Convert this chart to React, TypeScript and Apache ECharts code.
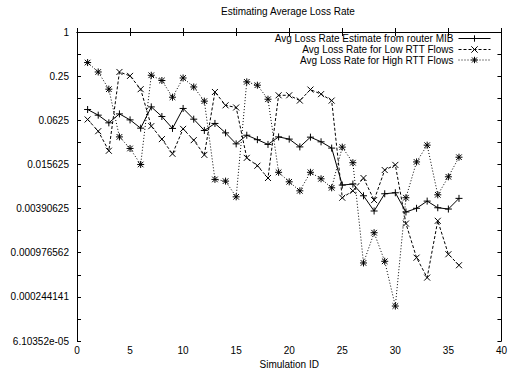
import React, { useEffect, useRef } from "react";
import * as echarts from "echarts";

const simIds = [1, 2, 3, 4, 5, 6, 7, 8, 9, 10, 11, 12, 13, 14, 15, 16, 17, 18, 19, 20, 21, 22, 23, 24, 25, 26, 27, 28, 29, 30, 31, 32, 33, 34, 35, 36];

const mibRate = [0.0877, 0.0734, 0.0577, 0.0764, 0.0633, 0.0488, 0.0952, 0.0704, 0.0484, 0.0906, 0.0647, 0.0454, 0.0566, 0.0421, 0.0298, 0.0391, 0.034, 0.0293, 0.0371, 0.0346, 0.0271, 0.0368, 0.0318, 0.0261, 0.00817, 0.00844, 0.00584, 0.00362, 0.00622, 0.00642, 0.00351, 0.00394, 0.00494, 0.00401, 0.00385, 0.00538];

const lowRttRate = [0.0641, 0.0444, 0.024, 0.285, 0.252, 0.166, 0.052, 0.0346, 0.0218, 0.0477, 0.0335, 0.0211, 0.152, 0.1, 0.0934, 0.0192, 0.015, 0.0102, 0.137, 0.137, 0.116, 0.164, 0.142, 0.116, 0.00549, 0.00682, 0.0102, 0.0051, 0.0131, 0.0154, 0.00244, 0.000836, 0.000447, 0.00266, 0.000931, 0.000659];

const highRttRate = [0.383, 0.285, 0.166, 0.0371, 0.0258, 0.0156, 0.257, 0.218, 0.129, 0.236, 0.178, 0.114, 0.00976, 0.00925, 0.00565, 0.209, 0.188, 0.121, 0.0122, 0.00905, 0.00682, 0.0122, 0.00995, 0.0075, 0.0269, 0.0165, 0.000708, 0.00183, 0.000746, 0.000183, 0.00549, 0.0169, 0.0286, 0.00602, 0.0106, 0.0196];

const seriesNames = [
  "Avg Loss Rate Estimate from router MIB",
  "Avg Loss Rate for Low RTT Flows",
  "Avg Loss Rate for High RTT Flows",
];

const yTickLabels = ["1", "0.25", "0.0625", "0.015625", "0.00390625", "0.000976562", "0.000244141", "6.10352e-05"];

const FONT = "Liberation Sans, Arial, Helvetica, sans-serif";

const PLUS = "path://M0,5L10,5M5,0L5,10";
const CROSS = "path://M0,0L10,10M10,0L0,10";
const STAR = "path://M0,5L10,5M5,0L5,10M1,1L9,9M9,1L1,9";

export default function App() {
  const ref = useRef<HTMLDivElement>(null);
  useEffect(() => {
    if (!ref.current) return;
    const chart = echarts.init(ref.current, undefined, { renderer: "svg" });
    const pairs = (vals: number[]) => simIds.map((id, i) => [id, vals[i]]);
    const textStyle = { fontFamily: FONT, fontSize: 10, color: "#000" };
    const axisLine = { show: true, lineStyle: { color: "#000", width: 1 } };
    const mkSeries = (name: string, vals: number[], symbol: string, type: any, size: number) => ({
      name,
      type: "line",
      data: pairs(vals),
      xAxisIndex: 0,
      yAxisIndex: 0,
      symbol,
      symbolSize: size,
      showAllSymbol: true,
      lineStyle: { color: "#000", width: 1, type },
      itemStyle: { color: "#000", borderColor: "#000", borderWidth: 1 },
      emphasis: { disabled: true },
    });
    const legendTops = [33.5, 44.5, 55];
    chart.setOption({
      animation: false,
      backgroundColor: "#fff",
      textStyle: { fontFamily: FONT },
      title: {
        text: "Estimating Average Loss Rate",
        left: 221,
        top: 6,
        padding: 0,
        textStyle: { ...textStyle, fontWeight: "normal" },
      },
      legend: seriesNames.map((n, i) => ({
        data: [n],
        right: 19,
        top: legendTops[i],
        orient: "vertical",
        align: "right",
        itemWidth: 32,
        itemHeight: 8,
        itemGap: 0,
        padding: 0,
        selectedMode: false,
        textStyle,
        lineStyle: { width: 1 },
        itemStyle: { borderWidth: 1 },
      })),
      grid: { left: 77, right: 8, top: 32, bottom: 34, containLabel: false },
      xAxis: [
        {
          type: "value",
          min: 0,
          max: 40,
          interval: 5,
          position: "bottom",
          axisLine,
          axisTick: { show: true, inside: true, length: 4, lineStyle: { color: "#000" } },
          axisLabel: { ...textStyle, margin: 4 },
          splitLine: { show: false },
          name: "Simulation ID",
          nameLocation: "middle",
          nameGap: 17,
          nameTextStyle: textStyle,
        },
        {
          type: "value",
          min: 0,
          max: 40,
          interval: 5,
          position: "top",
          axisLine,
          axisTick: { show: true, inside: true, length: 4, lineStyle: { color: "#000" } },
          axisLabel: { show: false },
          splitLine: { show: false },
        },
      ],
      yAxis: [
        {
          type: "log",
          logBase: 4,
          min: 6.103515625e-5,
          max: 1,
          position: "left",
          axisLine,
          axisTick: { show: true, inside: true, length: 4, lineStyle: { color: "#000" } },
          axisLabel: {
            ...textStyle,
            margin: 8,
            formatter: (v: number) => {
              const k = Math.round(-Math.log(v) / Math.log(4));
              return yTickLabels[k] ?? "";
            },
          },
          splitLine: { show: false },
          minorTick: { show: false },
        },
        {
          type: "value",
          min: -7,
          max: 0,
          interval: 0.5,
          position: "left",
          axisLine: { show: false },
          axisTick: { show: true, inside: true, length: 4, lineStyle: { color: "#000" } },
          axisLabel: { show: false },
          splitLine: { show: false },
        },
        {
          type: "value",
          min: -7,
          max: 0,
          interval: 0.5,
          position: "right",
          axisLine,
          axisTick: { show: true, inside: true, length: 4, lineStyle: { color: "#000" } },
          axisLabel: { show: false },
          splitLine: { show: false },
        },
      ],
      series: [
        mkSeries(seriesNames[0], mibRate, PLUS, "solid", 7),
        mkSeries(seriesNames[1], lowRttRate, CROSS, [3, 2], 6),
        mkSeries(seriesNames[2], highRttRate, STAR, [1, 2], 7),
      ],
    });
    return () => chart.dispose();
  }, []);
  return <div ref={ref} style={{ width: 510, height: 375, position: "absolute", left: 0, top: 0 }} />;
}
